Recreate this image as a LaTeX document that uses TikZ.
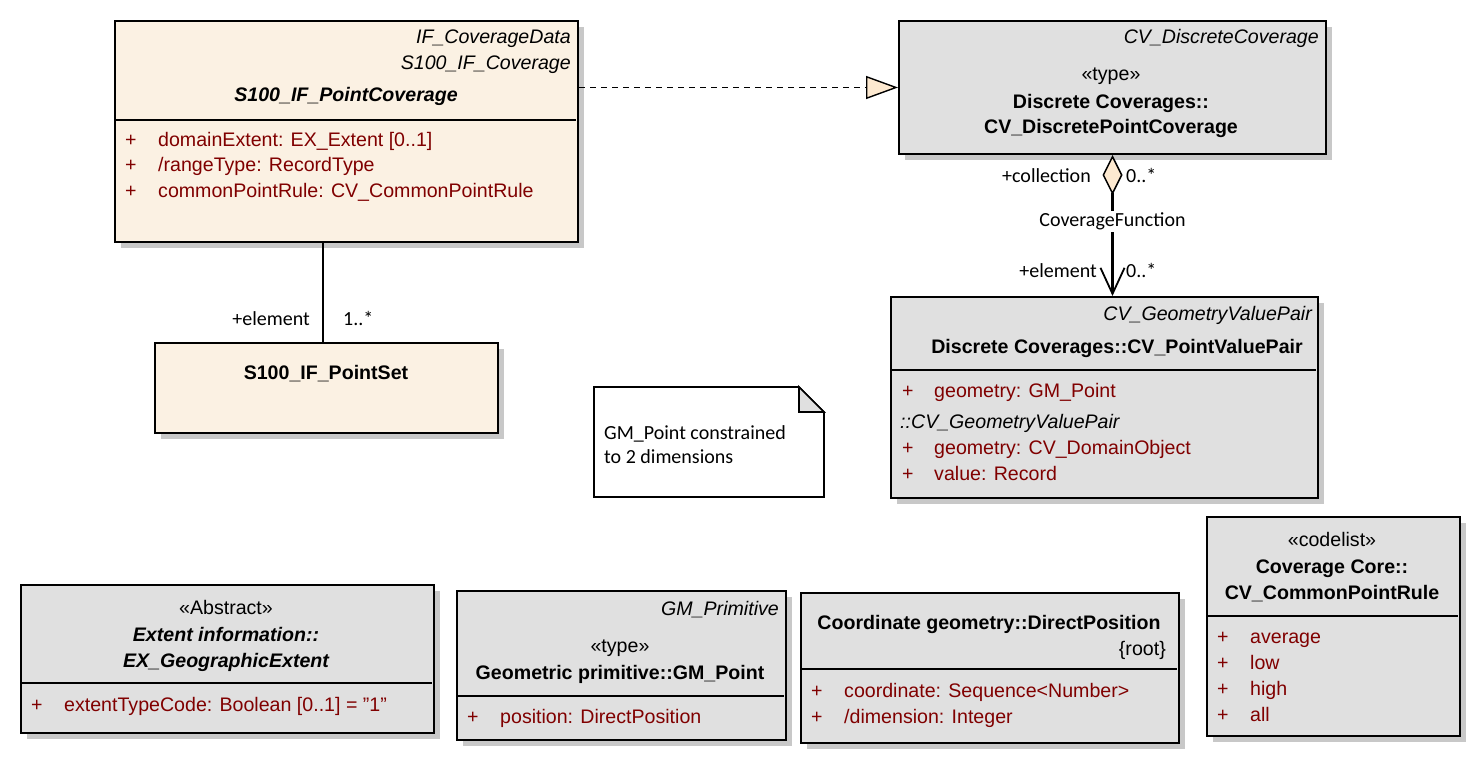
\documentclass[tikz,border=0pt]{standalone}
\usepackage{fontspec}
\setmainfont{Liberation Sans}
\newfontfamily\labelfont{Carlito}
\usetikzlibrary{shadows,arrows.meta}
\definecolor{beige}{RGB}{251,241,227}
\definecolor{umlgray}{RGB}{224,224,224}
\definecolor{attrred}{RGB}{128,0,0}
\definecolor{diamfill}{RGB}{253,233,208}
\definecolor{shadowgray}{RGB}{200,200,200}
\tikzset{
  cls/.style={draw, line width=2pt, inner sep=0pt, anchor=north west,
    drop shadow={shadow xshift=6pt, shadow yshift=-6pt, fill=shadowgray, opacity=1}},
  txt/.style={inner sep=0pt, font=\fontsize{19.6}{23}\selectfont},
  attr/.style={txt, text=attrred, anchor=base west},
  lbl/.style={inner sep=0pt, font=\labelfont\fontsize{20}{24}\selectfont},
  divider/.style={line width=1.6pt},
  conn/.style={line width=2.2pt},
}
\begin{document}
\begin{tikzpicture}[x=1pt,y=-1pt]
\useasboundingbox (0,0) rectangle (1480,759);

% ---------- Box 1: S100_IF_PointCoverage
\node[cls, fill=beige, minimum width=463pt, minimum height=221pt] (b1) at (114,20) {};
\draw[divider] (115,120) -- (576,120);
\node[txt, anchor=base east] (b1s1) at (571,44) {\itshape IF\_CoverageData};
\node[txt, anchor=base east] (b1s2) at (571,70) {\itshape S100\_IF\_Coverage};
\node[txt, anchor=base] (b1n) at (346,102) {\bfseries\itshape S100\_IF\_PointCoverage};
\node[attr] (b1p1) at (125,147) {+};
\node[attr] (b1a1) at (158,147) {domainExtent: EX\_Extent [0..1]};
\node[attr] (b1p2) at (125,172) {+};
\node[attr] (b1a2) at (158,172) {/rangeType: RecordType};
\node[attr] (b1p3) at (125,198) {+};
\node[attr] (b1a3) at (158,198) {commonPointRule: CV\_CommonPointRule};

% ---------- Box 2: CV_DiscretePointCoverage
\node[cls, fill=umlgray, minimum width=427pt, minimum height=133pt] (b2) at (898,20) {};
\node[txt, anchor=base east] (b2s) at (1319,44) {\itshape CV\_DiscreteCoverage};
\node[txt, anchor=base] (b2st) at (1111,81) {«type»};
\node[txt, anchor=base] (b2n1) at (1111,109) {\bfseries Discrete Coverages::};
\node[txt, anchor=base] (b2n2) at (1111,134) {\bfseries CV\_DiscretePointCoverage};

% ---------- Box 3: CV_PointValuePair
\node[cls, fill=umlgray, minimum width=427pt, minimum height=201pt] (b3) at (890,296) {};
\draw[divider] (891,370) -- (1316,370);
\node[txt, anchor=base east] (b3s) at (1312,320) {\itshape CV\_GeometryValuePair};
\node[txt, anchor=base] (b3n) at (1117,353) {\bfseries Discrete Coverages::CV\_PointValuePair};
\node[attr] (b3p1) at (902,397) {+};
\node[attr] (b3a1) at (934,397) {geometry: GM\_Point};
\node[txt, anchor=base west] (b3i) at (900,428) {\itshape ::CV\_GeometryValuePair};
\node[attr] (b3p2) at (902,454) {+};
\node[attr] (b3a2) at (934,454) {geometry: CV\_DomainObject};
\node[attr] (b3p3) at (902,480) {+};
\node[attr] (b3a3) at (934,480) {value: Record};

% ---------- Box 4: S100_IF_PointSet
\node[cls, fill=beige, minimum width=343pt, minimum height=90pt] (b4) at (154,342) {};
\node[txt, anchor=base] (b4n) at (326,379) {\bfseries S100\_IF\_PointSet};

% ---------- Note
\draw[line width=1.6pt, fill=white] (594,387) -- (799,387) -- (824,412) -- (824,497) -- (594,497) -- cycle;
\draw[line width=1.6pt, fill=umlgray] (799,387) -- (799,412) -- (824,412) -- cycle;
\node[lbl, anchor=base west] (nt1) at (604,439) {GM\_Point constrained};
\node[lbl, anchor=base west] (nt2) at (604,463) {to 2 dimensions};

% ---------- Box 5: EX_GeographicExtent
\node[cls, fill=umlgray, minimum width=413pt, minimum height=148pt] (b5) at (20,584) {};
\draw[divider] (21,683) -- (432,683);
\node[txt, anchor=base] (b5st) at (226,614) {«Abstract»};
\node[txt, anchor=base] (b5n1) at (226,641) {\bfseries\itshape Extent information::};
\node[txt, anchor=base] (b5n2) at (226,667) {\bfseries\itshape EX\_GeographicExtent};
\node[attr] (b5p1) at (31,711) {+};
\node[attr] (b5a1) at (64,711) {extentTypeCode: Boolean [0..1] = {\char34}1{\char34}};

% ---------- Box 6: GM_Point
\node[cls, fill=umlgray, minimum width=329pt, minimum height=149pt] (b6) at (456,590) {};
\draw[divider] (457,696) -- (784,696);
\node[txt, anchor=base east] (b6s) at (779,615) {\itshape GM\_Primitive};
\node[txt, anchor=base] (b6st) at (620,652) {«type»};
\node[txt, anchor=base] (b6n) at (620,679) {\bfseries Geometric primitive::GM\_Point};
\node[attr] (b6p1) at (467,723) {+};
\node[attr] (b6a1) at (500,723) {position: DirectPosition};

% ---------- Box 7: DirectPosition
\node[cls, fill=umlgray, minimum width=378pt, minimum height=150pt] (b7) at (800,592) {};
\draw[divider] (801,669) -- (1177,669);
\node[txt, anchor=base] (b7n) at (989,629) {\bfseries Coordinate geometry::DirectPosition};
\node[txt, anchor=base east] (b7r) at (1166,655) {\{root\}};
\node[attr] (b7p1) at (811,697) {+};
\node[attr] (b7a1) at (844,697) {coordinate: Sequence<Number>};
\node[attr] (b7p2) at (811,723) {+};
\node[attr] (b7a2) at (844,723) {/dimension: Integer};

% ---------- Box 8: CV_CommonPointRule
\node[cls, fill=umlgray, minimum width=253pt, minimum height=219pt] (b8) at (1206,516) {};
\draw[divider] (1207,616) -- (1458,616);
\node[txt, anchor=base] (b8st) at (1332,546) {«codelist»};
\node[txt, anchor=base] (b8n1) at (1332,573) {\bfseries Coverage Core::};
\node[txt, anchor=base] (b8n2) at (1332,599) {\bfseries CV\_CommonPointRule};
\node[attr] (b8p1) at (1217,643) {+};
\node[attr] (b8a1) at (1250,643) {average};
\node[attr] (b8p2) at (1217,669) {+};
\node[attr] (b8a2) at (1250,669) {low};
\node[attr] (b8p3) at (1217,695) {+};
\node[attr] (b8a3) at (1250,695) {high};
\node[attr] (b8p4) at (1217,721) {+};
\node[attr] (b8a4) at (1250,721) {all};

% ---------- Connectors
% realization
\draw[line width=1.5pt, dash pattern=on 6pt off 5pt,
  -{Triangle[length=32pt,width=23pt,fill=diamfill,line width=1.4pt]}]
  (b1.east |- b2.west) -- (b2.west);

% aggregation CoverageFunction
\draw[conn, {Diamond[length=40pt,width=20pt,fill=diamfill,line width=1.5pt]}-{Straight Barb[length=26pt,width=24pt,line width=1.8pt]}]
  (b2.south) -- (b2.south |- b3.north)
  node[pos=0.47, lbl, fill=white, inner sep=2pt] (cf) {CoverageFunction};
\node[lbl, anchor=base east] (l1) at (1091,183) {+collection};
\node[lbl, anchor=base west] (l2) at (1126,183) {0..*};
\node[lbl, anchor=base east] (l3) at (1097,278) {+element};
\node[lbl, anchor=base west] (l4) at (1126,278) {0..*};

% association to point set
\draw[line width=1.8pt] (b4.north -| 323,0) -- (b1.south -| 323,0);
\node[lbl, anchor=base east] (l5) at (310,325) {+element};
\node[lbl, anchor=base west] (l6) at (343,325) {1..*};
\end{tikzpicture}
\end{document}
